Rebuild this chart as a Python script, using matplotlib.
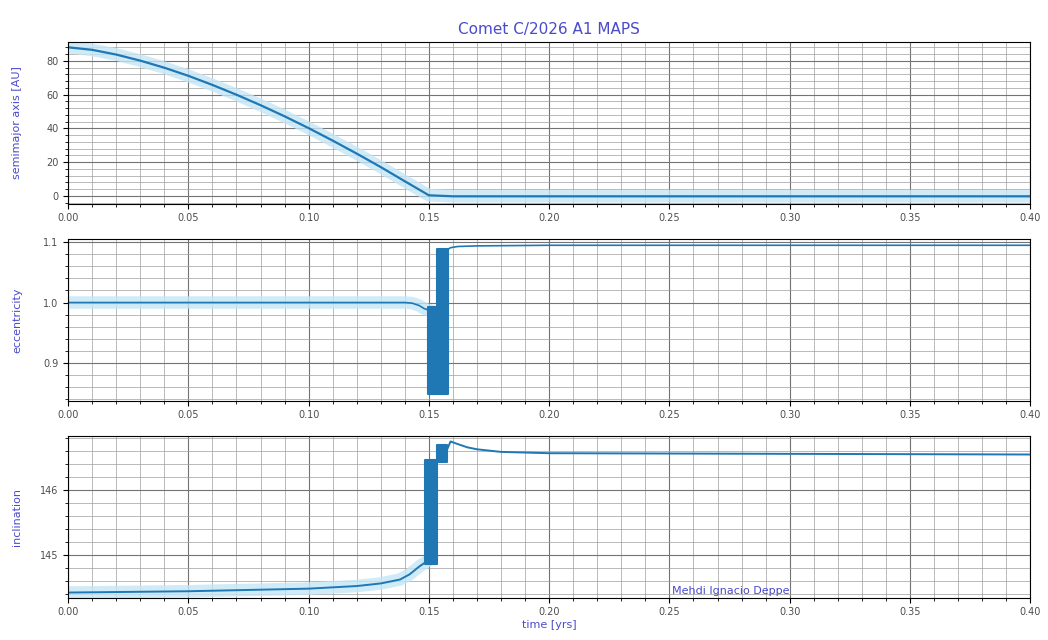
import matplotlib
matplotlib.use("Agg")
import matplotlib.pyplot as plt
from matplotlib.ticker import MultipleLocator, AutoMinorLocator

# semimajor axis
a_t = [0.0, 0.01, 0.02, 0.03, 0.04, 0.05, 0.06, 0.07, 0.08, 0.09, 0.10,
       0.11, 0.12, 0.13, 0.14, 0.15, 0.16, 0.20, 0.30, 0.40]
a_val = [88.0, 86.5, 83.7, 80.1, 75.9, 71.1, 65.7, 59.9, 53.7, 47.1, 40.1,
         32.7, 25.0, 17.0, 8.6, 0.3, -0.3, -0.3, -0.3, -0.3]

# eccentricity
e_t_before = [0.0, 0.05, 0.10, 0.140, 0.143, 0.146, 0.148, 0.1495]
e_before = [1.0, 1.0, 1.0, 1.0, 0.999, 0.995, 0.99, 0.988]
e_band_t = [0.1495, 0.1534, 0.1534, 0.1578]
e_band_lo = [0.848, 0.848, 0.848, 0.848]
e_band_hi = [0.992, 0.992, 1.088, 1.088]
e_t_after = [0.1578, 0.159, 0.162, 0.17, 0.20, 0.30, 0.40]
e_after = [1.088, 1.091, 1.093, 1.094, 1.095, 1.095, 1.095]

# inclination
i_t_before = [0.0, 0.05, 0.10, 0.12, 0.13, 0.138, 0.142, 0.146, 0.1484]
i_before = [144.42, 144.44, 144.48, 144.52, 144.56, 144.62, 144.70, 144.82, 144.88]
i_band_t = [0.1484, 0.1534, 0.1534, 0.1576]
i_band_lo = [144.86, 144.86, 146.42, 146.42]
i_band_hi = [146.45, 146.45, 146.68, 146.68]
i_t_after = [0.1576, 0.159, 0.162, 0.166, 0.17, 0.18, 0.20, 0.30, 0.40]
i_after = [146.62, 146.74, 146.70, 146.65, 146.62, 146.58, 146.56, 146.55, 146.54]

LINE = "#1f77b4"
HALO = "#c4e6f5"
TXT = "#4a4acc"


def style(ax, major):
    ax.set_xlim(0, 0.40)
    ax.xaxis.set_major_locator(MultipleLocator(0.05))
    ax.xaxis.set_minor_locator(AutoMinorLocator(5))
    ax.yaxis.set_major_locator(MultipleLocator(major))
    ax.yaxis.set_minor_locator(AutoMinorLocator(5))
    ax.grid(True, which="major", color="0.45", lw=0.8)
    ax.grid(True, which="minor", color="0.62", lw=0.5)
    ax.tick_params(labelsize=7, labelcolor="0.3")


fig, (ax1, ax2, ax3) = plt.subplots(3, 1, figsize=(10.48, 6.4), dpi=100)
fig.subplots_adjust(left=0.065, right=0.983, top=0.934, bottom=0.066, hspace=0.22)

ax1.plot(a_t, a_val, color=HALO, lw=9, alpha=0.8)
ax1.plot(a_t, a_val, color=LINE, lw=1.6)
ax1.set_ylim(-4.7, 91)
ax1.set_ylabel("semimajor axis [AU]", fontsize=8, color=TXT)
ax1.set_title("Comet C/2026 A1 MAPS", fontsize=11, color=TXT)
style(ax1, 20)

ax2.plot(e_t_before, e_before, color=HALO, lw=9, alpha=0.8)
ax2.plot(e_t_before, e_before, color=LINE, lw=1.2)
ax2.fill_between(e_band_t, e_band_lo, e_band_hi, color=LINE, lw=1.5,
                 edgecolor=LINE, zorder=2.5)
ax2.plot(e_t_after, e_after, color=LINE, lw=1.2)
ax2.set_ylim(0.837, 1.105)
ax2.set_ylabel("eccentricity", fontsize=8, color=TXT)
style(ax2, 0.1)

ax3.plot(i_t_before, i_before, color=HALO, lw=9, alpha=0.8)
ax3.plot(i_t_before, i_before, color=LINE, lw=1.4)
ax3.fill_between(i_band_t, i_band_lo, i_band_hi, color=LINE, lw=1.5,
                 edgecolor=LINE, zorder=2.5)
ax3.plot(i_t_after, i_after, color=LINE, lw=1.4)
ax3.set_ylim(144.34, 146.82)
ax3.set_ylabel("inclination", fontsize=8, color=TXT)
ax3.set_xlabel("time [yrs]", fontsize=8, color=TXT, labelpad=2)
ax3.text(0.251, 144.40, "Mehdi Ignacio Deppe", fontsize=8, color=TXT)
style(ax3, 1)

for ax in (ax1, ax2, ax3):
    ax.yaxis.set_label_coords(-0.048, 0.5)

fig.savefig("out.png")
